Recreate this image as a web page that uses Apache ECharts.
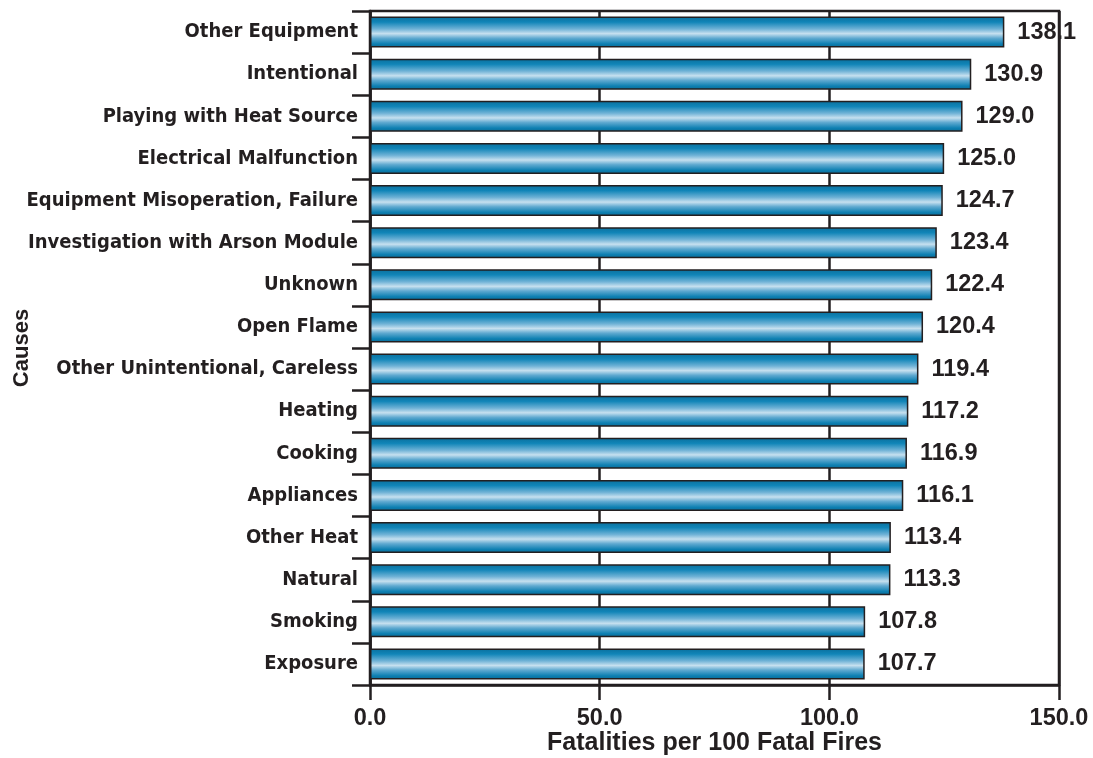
<!DOCTYPE html>
<html>
<head>
<meta charset="utf-8">
<script src="https://cdn.jsdelivr.net/npm/echarts@6/dist/echarts.min.js"></script>
<style>
  html, body { margin: 0; padding: 0; background: #fff; }
  #chart { width: 1093px; height: 758px; }
</style>
</head>
<body>
<div id="chart"></div>
<script>
// Causes listed top to bottom
const causes = [
  'Other Equipment',
  'Intentional',
  'Playing with Heat Source',
  'Electrical Malfunction',
  'Equipment Misoperation, Failure',
  'Investigation with Arson Module',
  'Unknown',
  'Open Flame',
  'Other Unintentional, Careless',
  'Heating',
  'Cooking',
  'Appliances',
  'Other Heat',
  'Natural',
  'Smoking',
  'Exposure'
];
// Fatalities per 100 fatal fires
const fatalities = [138.1, 130.9, 129.0, 125.0, 124.7, 123.4, 122.4, 120.4,
                    119.4, 117.2, 116.9, 116.1, 113.4, 113.3, 107.8, 107.7];
const xTicks = [0, 50, 100, 150];

const ink = '#231f20';
const wideFont = 'Liberation Sans, Arial, sans-serif';
const narrowFont = '"DejaVu Sans Condensed", "Liberation Sans Narrow", sans-serif';
const chart = echarts.init(document.getElementById('chart'), null, { renderer: 'canvas' });

// Tube-like shading across the bar thickness
const tube = new echarts.graphic.LinearGradient(0, 0, 0, 1, [
  { offset: 0.00, color: '#0a6f9c' },
  { offset: 0.18, color: '#1185b8' },
  { offset: 0.40, color: '#6fb2d6' },
  { offset: 0.55, color: '#c6e0ef' },
  { offset: 0.70, color: '#5fa9d0' },
  { offset: 0.88, color: '#0e80b2' },
  { offset: 1.00, color: '#0a6a95' }
]);

chart.setOption({
  animation: false,
  backgroundColor: '#fff',
  grid: {
    left: 370, right: 34, top: 11, bottom: 73,
    outerBoundsMode: 'none',
    show: true, borderColor: ink, borderWidth: 2.5, backgroundColor: 'transparent'
  },
  xAxis: {
    type: 'value',
    min: xTicks[0], max: xTicks[xTicks.length - 1], interval: 50,
    name: 'Fatalities per 100 Fatal Fires',
    nameLocation: 'middle', nameGap: 46, nameMoveOverlap: false,
    nameTextStyle: { fontFamily: wideFont, fontWeight: 'bold', fontSize: 25, color: ink },
    axisLine: { show: true, lineStyle: { color: ink, width: 2.5 } },
    axisTick: { show: true, length: 15, lineStyle: { color: ink, width: 2.5 } },
    axisLabel: {
      margin: 22, fontFamily: wideFont, fontWeight: 'bold', fontSize: 23.5, color: ink,
      formatter: v => v.toFixed(1)
    },
    splitLine: { show: true, lineStyle: { color: ink, width: 2.5 } }
  },
  yAxis: {
    type: 'category', data: causes, inverse: true,
    name: 'Causes', nameLocation: 'middle', nameGap: 337, nameRotate: 90, nameMoveOverlap: false,
    nameTextStyle: { fontFamily: wideFont, fontWeight: 'bold', fontSize: 22, color: ink },
    axisLine: { show: true, lineStyle: { color: ink, width: 2.5 } },
    axisTick: { show: true, length: 18, interval: 0, lineStyle: { color: ink, width: 2.5 } },
    axisLabel: {
      margin: 12, fontFamily: narrowFont, fontWeight: 'bold', fontSize: 20, color: ink
    },
    splitLine: { show: false }
  },
  series: [{
    type: 'bar',
    data: fatalities,
    barWidth: 31,
    itemStyle: { color: tube, borderColor: ink, borderWidth: 1.5 },
    label: {
      show: true, position: 'right', distance: 13,
      fontFamily: wideFont, fontWeight: 'bold', fontSize: 23.5, color: ink,
      formatter: p => p.value.toFixed(1)
    }
  }]
});
</script>
</body>
</html>
